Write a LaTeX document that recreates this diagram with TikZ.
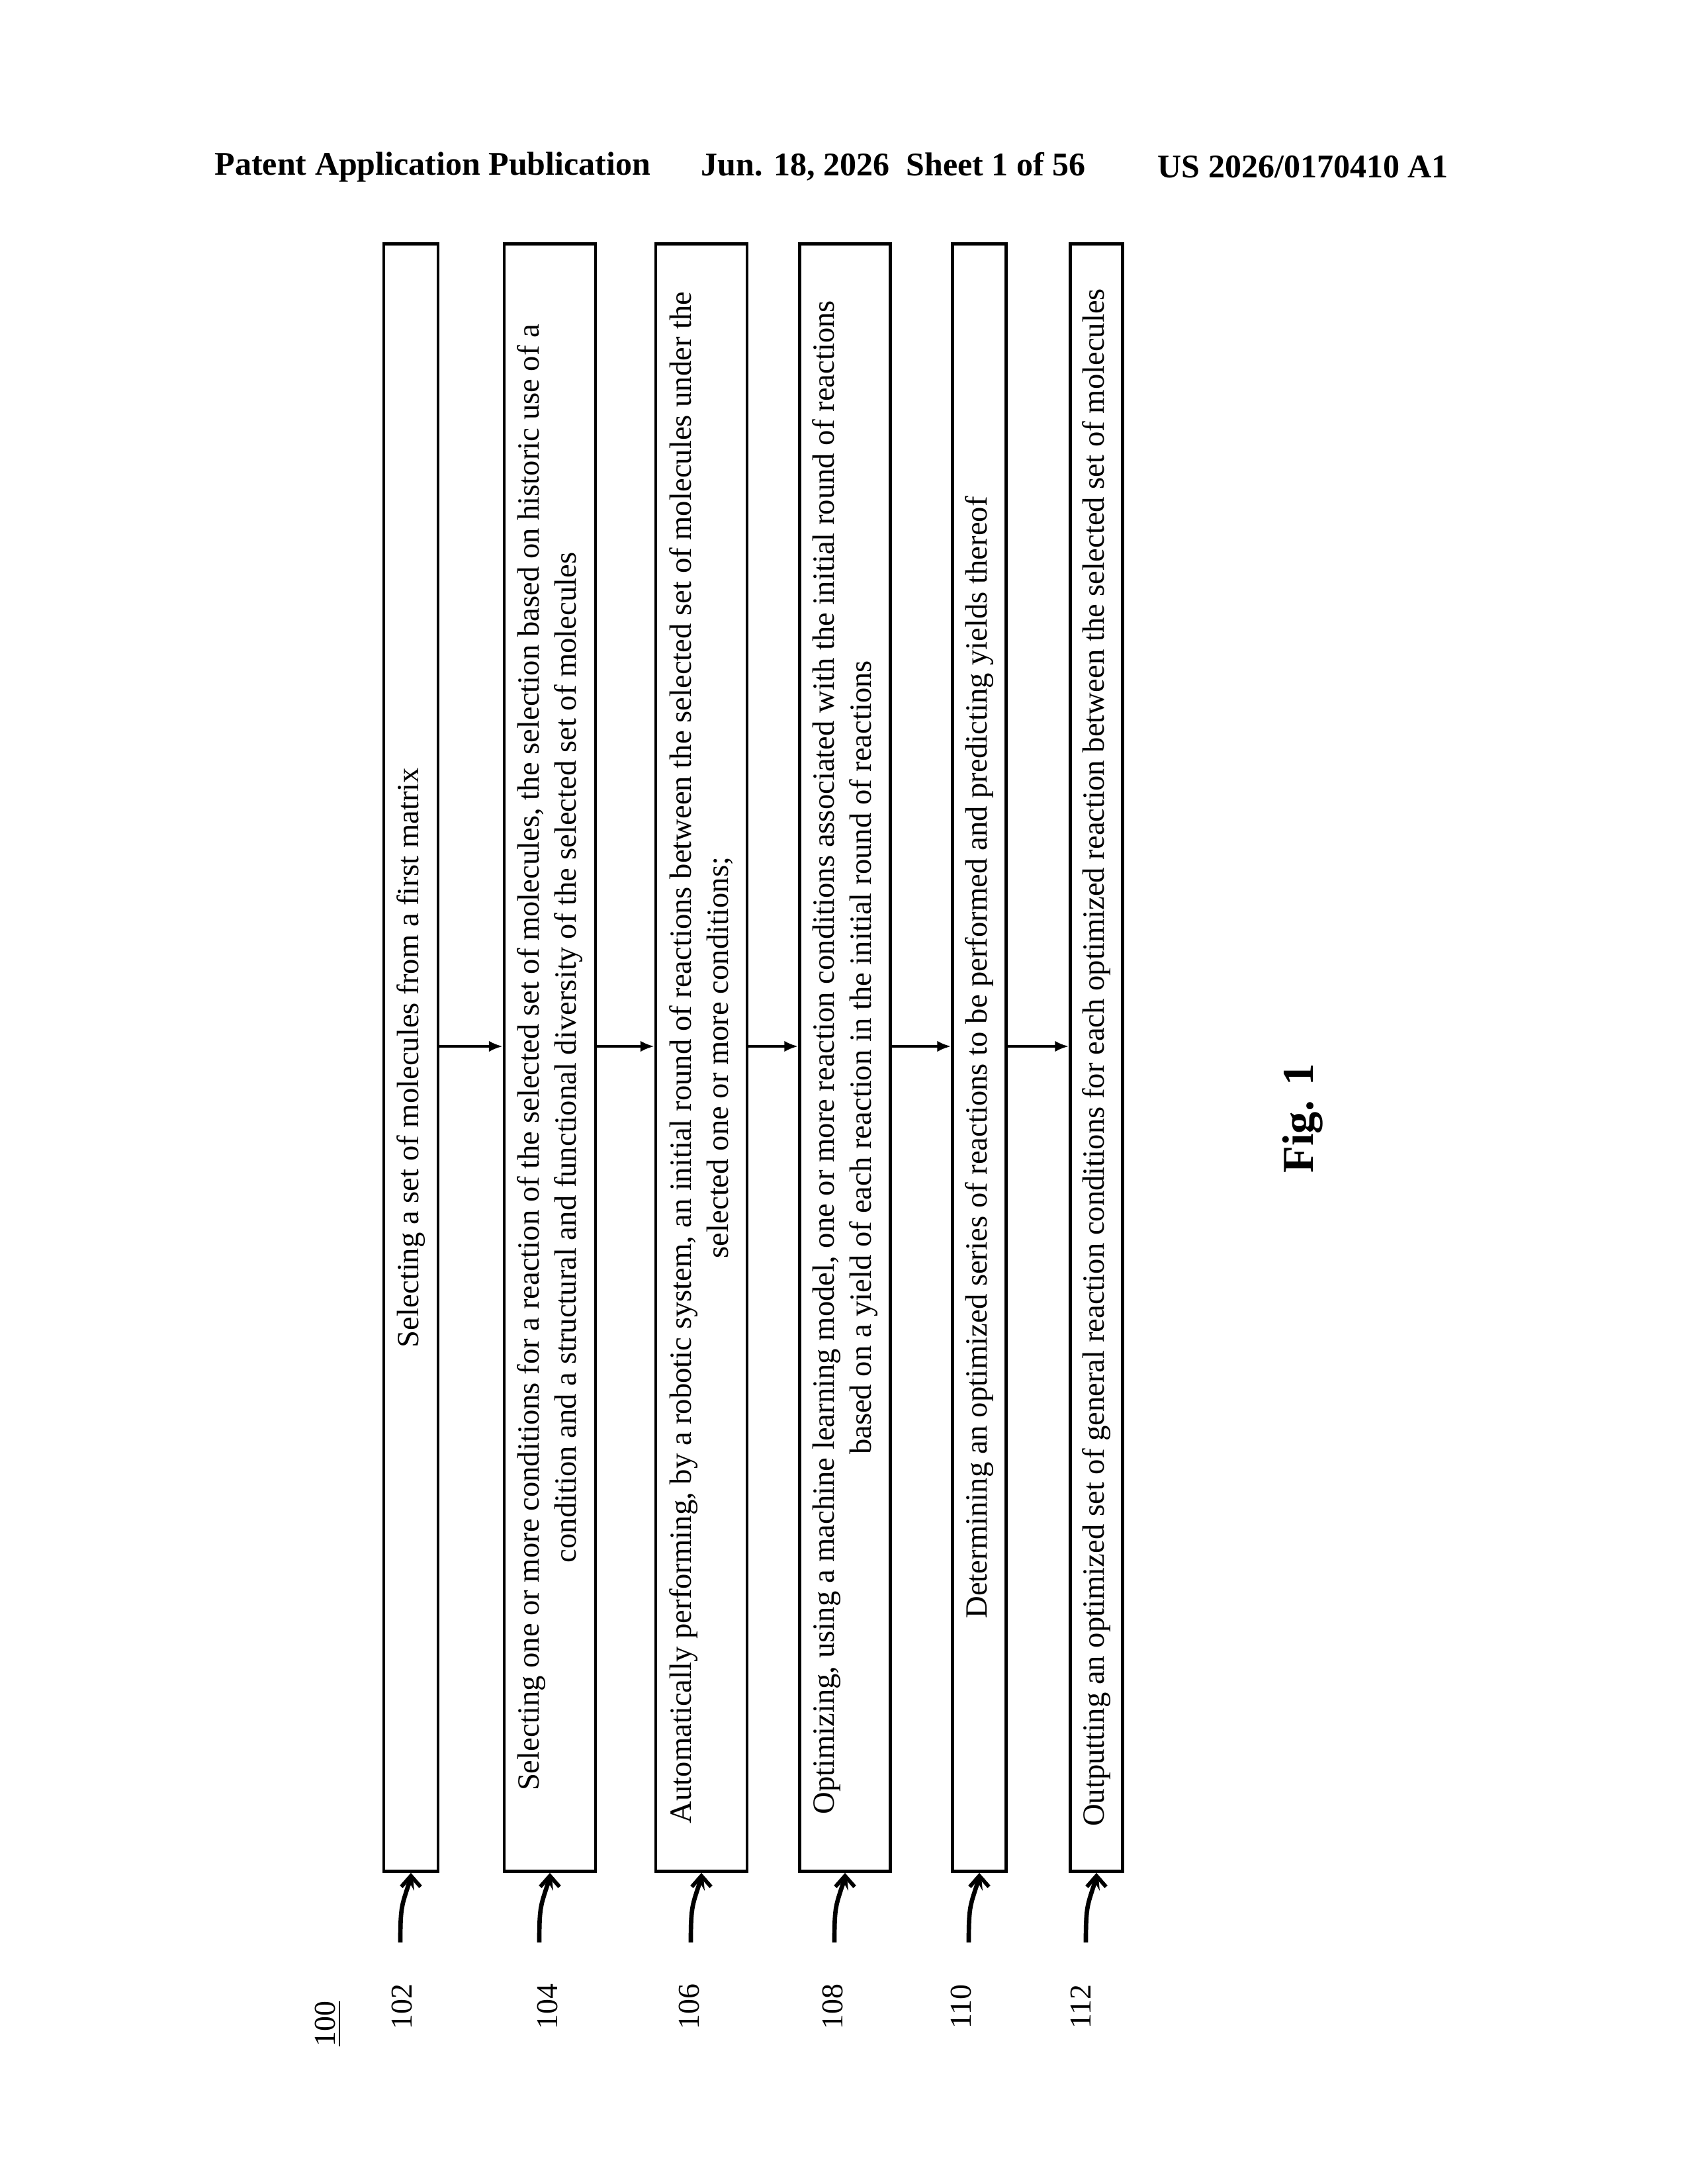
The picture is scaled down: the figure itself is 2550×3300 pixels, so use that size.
\documentclass[tikz,border=0pt]{standalone}
\usepackage{fontspec}
\setmainfont{Liberation Serif}
\usetikzlibrary{arrows.meta}
\begin{document}
\begin{tikzpicture}[x=0.24pt,y=-0.24pt,
  box/.style={draw,line width=1.1pt,rotate=90,minimum width=590.2pt,inner sep=0pt,align=center,font=\fontsize{11.2}{13.5}\selectfont},
  arr/.style={line width=0.9pt,-{Latex[length=5pt,width=4pt]}},
  sq/.style={line width=1.6pt,-{Straight Barb[length=4pt,width=7pt,line width=1.4pt]}},
  lbl/.style={rotate=90,font=\fontsize{11}{13}\selectfont},
  hdr/.style={anchor=west,font=\bfseries\fontsize{12}{14}\selectfont}]
\useasboundingbox (0,0) rectangle (2550,3300);
\node[hdr] (h1) at (310,252) {Patent Application Publication};
\node[hdr] (h2) at (1045,252) {Jun. 18, 2026\ \ Sheet 1 of 56};
\node[hdr] (h3) at (1735,252) {US 2026/0170410 A1};
\node[box,minimum height=19.7pt] (b1) at (621,1598) {Selecting a set of molecules from a first matrix};
\node[box,minimum height=33.1pt] (b2) at (831,1598) {Selecting one or more conditions for a reaction of the selected set of molecules, the selection based on historic use of a\\condition and a structural and functional diversity of the selected set of molecules};
\node[box,minimum height=33.1pt] (b3) at (1060,1598) {Automatically performing, by a robotic system, an initial round of reactions between the selected set of molecules under the\\selected one or more conditions;};
\node[box,minimum height=32.9pt] (b4) at (1277,1598) {Optimizing, using a machine learning model, one or more reaction conditions associated with the initial round of reactions\\based on a yield of each reaction in the initial round of reactions};
\node[box,minimum height=19.4pt] (b5) at (1480,1598) {Determining an optimized series of reactions to be performed and predicting yields thereof};
\node[box,minimum height=19pt] (b6) at (1657,1598) {Outputting an optimized set of general reaction conditions for each optimized reaction between the selected set of molecules};
\coordinate (ay) at (0,1581);
\draw[arr] (b1.south|-ay) -- (b2.north|-ay);
\draw[arr] (b2.south|-ay) -- (b3.north|-ay);
\draw[arr] (b3.south|-ay) -- (b4.north|-ay);
\draw[arr] (b4.south|-ay) -- (b5.north|-ay);
\draw[arr] (b5.south|-ay) -- (b6.north|-ay);
\foreach \b/\n/\x in {b1/102/607,b2/104/827,b3/106/1041,b4/108/1258,b5/110/1452,b6/112/1633}{
  \coordinate (t\n) at ([xshift=-16*0.24pt]\b.west|-0,2935);
  \draw[sq] (t\n) .. controls +(0,-50) and +(-8,25) .. ++(10,-80) .. controls +(8,-25) and +(0,20) .. (\b.west);
  \node[lbl] (l\n) at (\x,3032) {\n};
}
\node[lbl] (l100) at (496,3058) {\underline{100}};
\node[rotate=90,font=\bfseries\fontsize{16}{18}\selectfont] (fig) at (1969,1690) {Fig. 1};
\end{tikzpicture}
\end{document}
